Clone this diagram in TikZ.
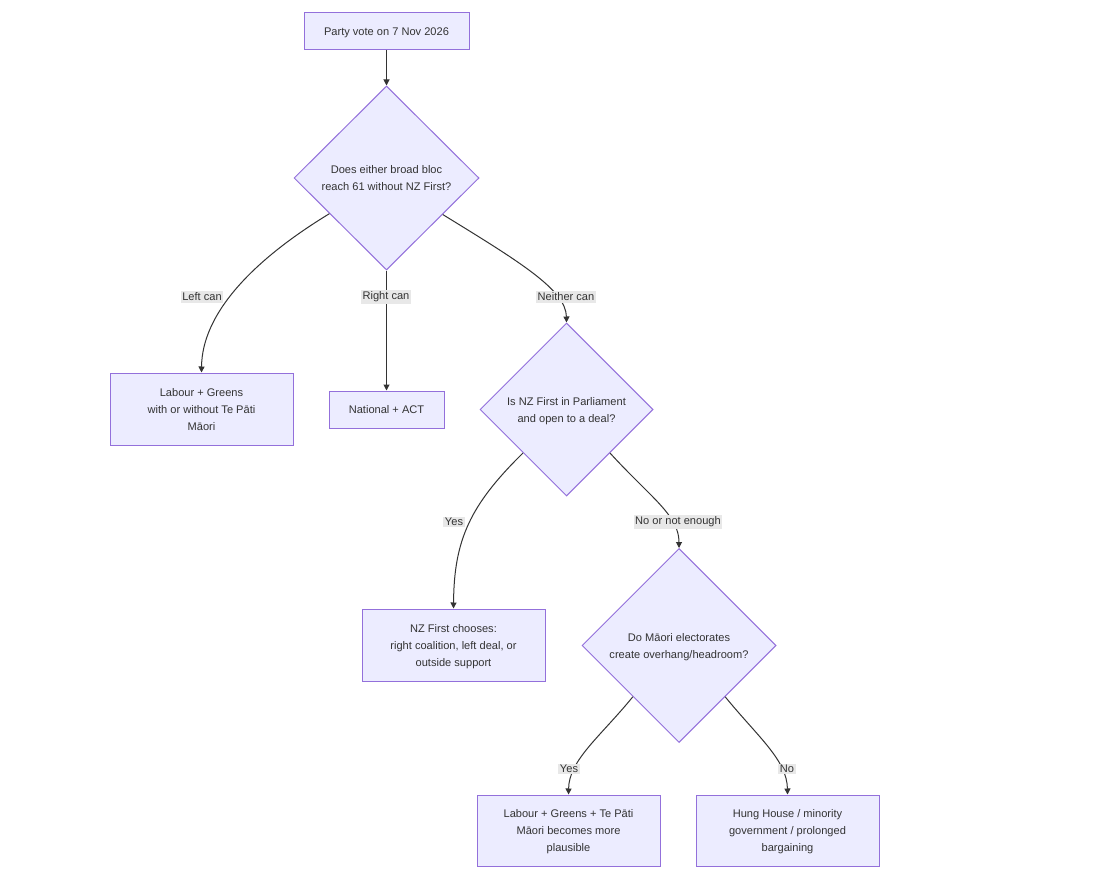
\documentclass[tikz,border=0pt]{standalone}
\usepackage{fontspec}
\setmainfont{Liberation Sans}
\usetikzlibrary{shapes.geometric,arrows.meta}
\definecolor{nodefill}{HTML}{ECECFF}
\definecolor{nodeline}{HTML}{9370DB}
\definecolor{edgecol}{HTML}{333333}
\definecolor{lblbg}{HTML}{E8E8E8}
\newcommand\fsz{\fontsize{8.3pt}{12.75pt}\selectfont}
\tikzset{
 box/.style={rectangle, draw=nodeline, fill=nodefill, line width=0.75pt, align=center, text=edgecol, font=\fsz, inner sep=0pt, text depth=0pt},
 dia/.style={diamond, draw=nodeline, fill=nodefill, line width=0.75pt, align=center, text=edgecol, font=\fsz, inner sep=0pt, text depth=0pt},
 lbl/.style={fill=lblbg, text=edgecol, font=\fsz, inner sep=1.2pt},
 conn/.style={draw=edgecol, line width=0.75pt, -{Triangle[length=4.5pt,width=4.5pt]}},
}
\begin{document}
\begin{tikzpicture}[x=0.75pt,y=-0.75pt]
\useasboundingbox[fill=white] (0,0) rectangle (1102,888);
% nodes
\node[box, minimum width=165*0.75pt, minimum height=37*0.75pt] (vote) at (386.5,31.5) {Party vote on 7 Nov 2026};
\node[dia, minimum width=185*0.75pt, minimum height=184*0.75pt] (d1) at (386.5,178) {Does either broad bloc\\reach 61 without NZ First?};
\node[box, minimum width=183*0.75pt, minimum height=72*0.75pt] (left) at (201.5,409) {Labour + Greens\\with or without Te Pāti\\Māori};
\node[box, minimum width=115*0.75pt, minimum height=37*0.75pt] (right) at (386.5,409.5) {National + ACT};
\node[dia, minimum width=173*0.75pt, minimum height=173*0.75pt] (d2) at (566.5,409.5) {Is NZ First in Parliament\\and open to a deal?};
\node[box, minimum width=183*0.75pt, minimum height=72*0.75pt] (nzf) at (453.5,645) {NZ First chooses:\\right coalition, left deal, or\\outside support};
\node[dia, minimum width=194*0.75pt, minimum height=194*0.75pt] (d3) at (679,645.5) {Do Māori electorates\\create overhang/headroom?};
\node[box, minimum width=183*0.75pt, minimum height=71*0.75pt] (lgm) at (568.5,830.5) {Labour + Greens + Te Pāti\\Māori becomes more\\plausible};
\node[box, minimum width=183*0.75pt, minimum height=71*0.75pt] (hung) at (787.5,830.5) {Hung House / minority\\government / prolonged\\bargaining};
% edges
\draw[conn] (vote.south) -- (d1.north);
\draw[conn] (d1.212) .. controls (250,262) and (202,315) .. (left.north);
\draw[conn] (d1.south) -- (right.north);
\draw[conn] (d1.327) .. controls (520,262) and (566,290) .. (d2.north);
\draw[conn] (d2.225) .. controls (470,505) and (454,540) .. (nzf.north);
\draw[conn] (d2.315) .. controls (650,497) and (679,515) .. (d3.north);
\draw[conn] (d3.228) .. controls (600,737) and (569,760) .. (lgm.north);
\draw[conn] (d3.312) .. controls (758,737) and (787,760) .. (hung.north);
% labels
\node[lbl] (l1) at (202,297) {Left can};
\node[lbl] (l2) at (386,297) {Right can};
\node[lbl] (l3) at (566,297) {Neither can};
\node[lbl] (l4) at (454,522) {Yes};
\node[lbl] (l5) at (678,522) {No or not enough};
\node[lbl] (l6) at (569,769) {Yes};
\node[lbl] (l7) at (787,769) {No};
\end{tikzpicture}
\end{document}
